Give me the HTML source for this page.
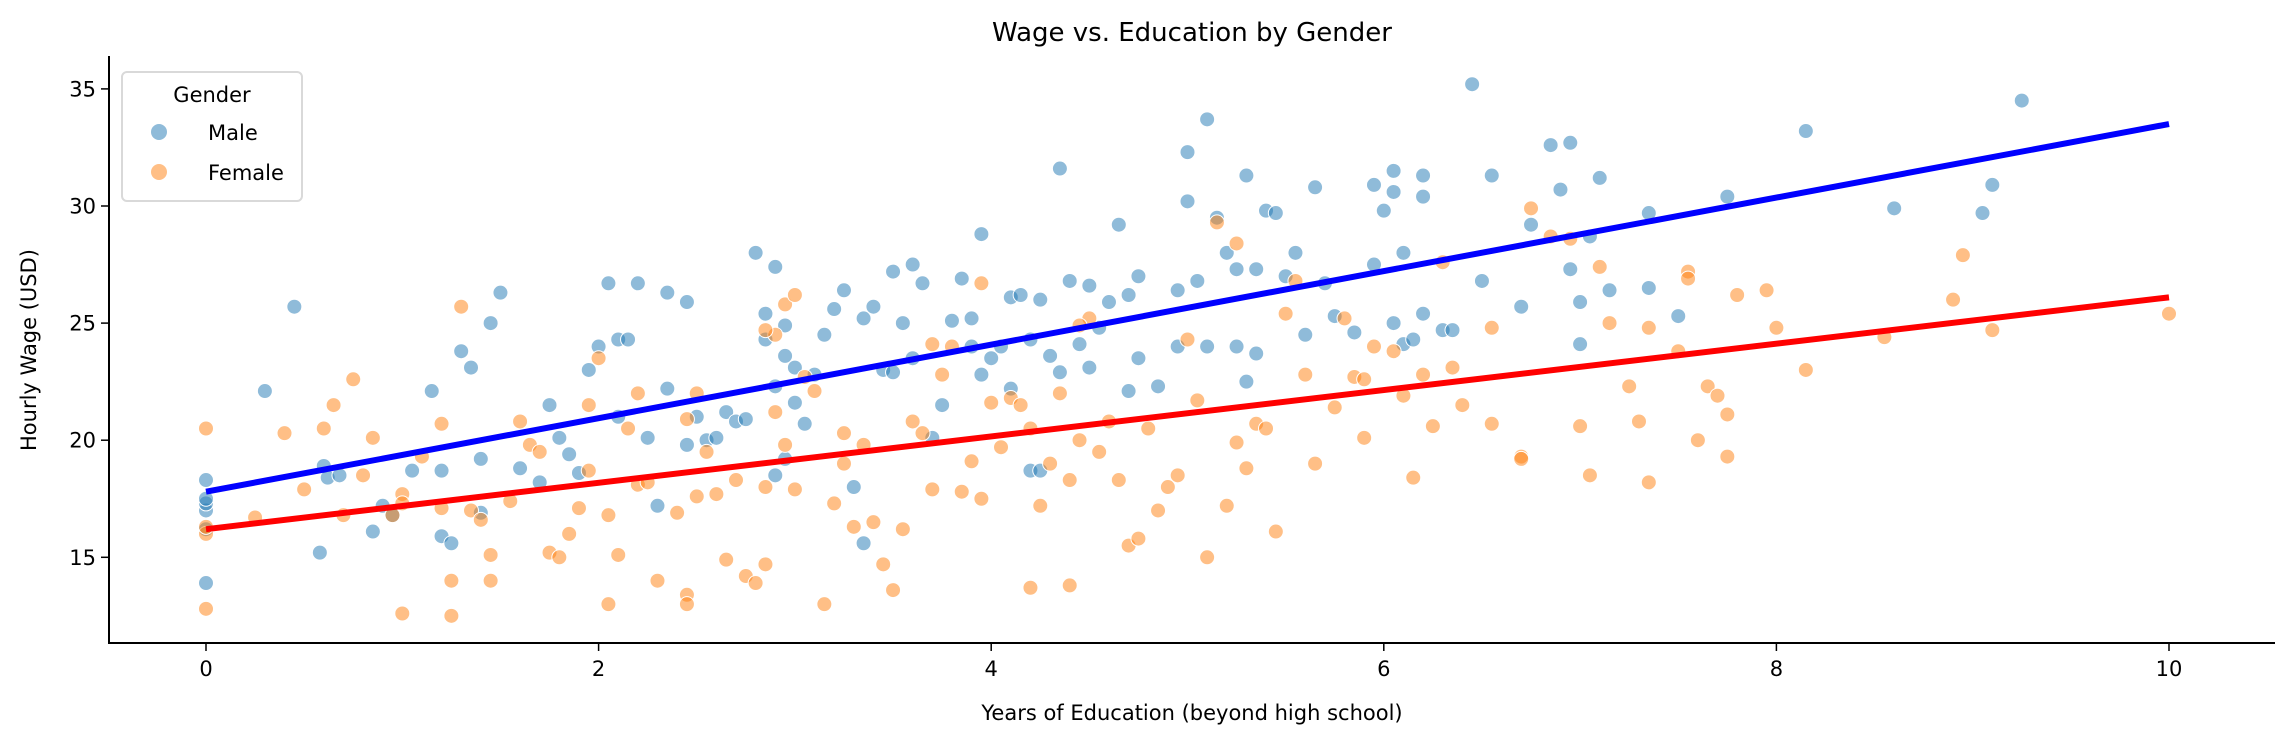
<!DOCTYPE html>
<html><head><meta charset="utf-8"><style>
body{margin:0;background:#fff;}
svg text{font-family:"DejaVu Sans","Liberation Sans",sans-serif;fill:#000;}
</style></head><body>
<svg id="chart" width="2282" height="744" viewBox="0 0 2282 744" xmlns="http://www.w3.org/2000/svg">
<g id="points"></g>
<g id="lines"></g>
<g id="axes"></g>
</svg>
<script>
const xTicks=[0,2,4,6,8,10];
const yTicks=[15,20,25,30,35];
const maleX=[0,0,0,0,0,0,0.3,0.45,0.58,0.6,0.62,0.68,0.85,0.9,0.95,1.05,1.15,1.2,1.2,1.25,1.3,1.35,1.4,1.45,1.5,1.4,1.6,1.7,1.75,1.8,1.85,1.9,1.95,2.0,2.05,2.1,2.15,2.2,2.25,2.1,2.3,2.35,2.35,2.45,2.5,2.45,2.55,2.6,2.65,2.7,2.75,2.8,2.85,2.85,2.9,2.9,2.95,2.95,3.0,3.0,2.95,2.9,3.05,3.1,3.15,3.2,3.25,3.3,3.35,3.35,3.4,3.45,3.5,3.5,3.55,3.6,3.6,3.65,3.7,3.75,3.8,3.85,3.9,3.9,3.95,3.95,4.0,4.05,4.1,4.1,4.15,4.2,4.2,4.25,4.25,4.3,4.35,4.35,4.4,4.45,4.5,4.5,4.55,4.6,4.65,4.7,4.7,4.75,4.75,4.85,4.95,4.95,5.0,5.0,5.05,5.1,5.1,5.15,5.2,5.25,5.25,5.3,5.35,5.4,5.45,5.5,5.55,5.6,5.65,5.7,5.75,5.85,5.95,5.95,6.0,6.05,6.05,6.1,6.1,6.15,6.2,6.2,6.2,6.3,6.45,6.5,6.55,6.7,6.75,6.85,6.9,6.95,6.95,7.0,7.0,7.05,7.1,7.15,7.35,7.35,7.5,7.75,8.15,8.6,9.05,9.1,9.25,5.35,6.05,6.35,5.3];
const maleY=[17,17.3,17.5,18.3,13.9,16.2,22.1,25.7,15.2,18.9,18.4,18.5,16.1,17.2,16.8,18.7,22.1,15.9,18.7,15.6,23.8,23.1,19.2,25,26.3,16.9,18.8,18.2,21.5,20.1,19.4,18.6,23,24,26.7,24.3,24.3,26.7,20.1,21,17.2,22.2,26.3,25.9,21,19.8,20,20.1,21.2,20.8,20.9,28,25.4,24.3,22.3,27.4,24.9,23.6,23.1,21.6,19.2,18.5,20.7,22.8,24.5,25.6,26.4,18,15.6,25.2,25.7,23,22.9,27.2,25,27.5,23.5,26.7,20.1,21.5,25.1,26.9,25.2,24,28.8,22.8,23.5,24,22.2,26.1,26.2,24.3,18.7,18.7,26,23.6,31.6,22.9,26.8,24.1,26.6,23.1,24.8,25.9,29.2,26.2,22.1,27,23.5,22.3,24,26.4,32.3,30.2,26.8,33.7,24,29.5,28,27.3,24,31.3,27.3,29.8,29.7,27,28,24.5,30.8,26.7,25.3,24.6,30.9,27.5,29.8,31.5,30.6,28,24.1,24.3,30.4,31.3,25.4,24.7,35.2,26.8,31.3,25.7,29.2,32.6,30.7,32.7,27.3,24.1,25.9,28.7,31.2,26.4,29.7,26.5,25.3,30.4,33.2,29.9,29.7,30.9,34.5,23.7,25,24.7,22.5];
const femaleX=[0,0,0,0,0.25,0.4,0.5,0.6,0.65,0.7,0.75,0.8,0.85,0.95,1.0,1.0,1.1,1.2,1.2,1.25,1.25,1.3,1.35,1.4,1.45,1.45,1.55,1.6,1.65,1.75,1.8,1.85,1.9,1.95,1.95,2.0,2.05,2.05,2.1,2.15,2.2,2.2,2.25,2.3,2.4,2.45,2.45,2.45,2.5,2.55,2.6,2.65,2.7,2.75,2.8,2.85,2.85,2.9,2.9,2.95,2.95,3.0,3.05,3.1,3.15,3.2,3.25,3.3,3.35,3.4,3.45,3.5,3.55,3.6,3.65,3.7,3.75,3.8,3.85,3.9,3.95,3.95,4.0,4.05,4.1,4.15,4.2,4.2,4.25,4.3,4.35,4.4,4.4,4.45,4.5,4.55,4.6,4.65,4.7,4.75,4.8,4.85,4.9,4.95,5.0,5.05,5.1,5.15,5.2,5.25,5.25,5.3,5.35,5.4,5.45,5.5,5.55,5.6,5.65,5.75,5.8,5.85,5.9,5.95,6.05,6.1,6.15,6.2,6.25,6.3,6.35,6.4,6.55,6.7,6.75,6.85,6.95,7.0,7.05,7.1,7.15,7.25,7.3,7.35,7.35,7.5,7.55,7.55,7.6,7.65,7.7,7.75,7.75,7.8,7.95,8.0,8.15,8.55,8.9,8.95,9.1,10,6.7,5.9,6.55,3.0,2.85,3.7,4.45,2.5,3.25,1.0,1.7];
const femaleY=[20.5,16,12.8,16.3,16.7,20.3,17.9,20.5,21.5,16.8,22.6,18.5,20.1,16.8,12.6,17.7,19.3,20.7,17.1,12.5,14,25.7,17,16.6,14,15.1,17.4,20.8,19.8,15.2,15,16,17.1,21.5,18.7,23.5,16.8,13,15.1,20.5,18.1,22,18.2,14,16.9,13.4,13,20.9,22,19.5,17.7,14.9,18.3,14.2,13.9,14.7,18,21.2,24.5,25.8,19.8,17.9,22.7,22.1,13,17.3,20.3,16.3,19.8,16.5,14.7,13.6,16.2,20.8,20.3,17.9,22.8,24,17.8,19.1,26.7,17.5,21.6,19.7,21.8,21.5,20.5,13.7,17.2,19,22,18.3,13.8,20,25.2,19.5,20.8,18.3,15.5,15.8,20.5,17,18,18.5,24.3,21.7,15,29.3,17.2,28.4,19.9,18.8,20.7,20.5,16.1,25.4,26.8,22.8,19,21.4,25.2,22.7,20.1,24,23.8,21.9,18.4,22.8,20.6,27.6,23.1,21.5,20.7,19.3,29.9,28.7,28.6,20.6,18.5,27.4,25,22.3,20.8,18.2,24.8,23.8,27.2,26.9,20,22.3,21.9,21.1,19.3,26.2,26.4,24.8,23,24.4,26,27.9,24.7,25.4,19.2,22.6,24.8,26.2,24.7,24.1,24.9,17.6,19,17.3,19.5];
const maleFit=[17.8,33.5];
const femaleFit=[16.2,26.1];
const fitX=[0,10];

const NS="http://www.w3.org/2000/svg";
const L=109,R=2282,T=56,B=643;
function sx(v){return 206+v*196.3;}
function sy(v){return 557.3-(v-15)*23.42;}
function mk(tag,attrs,parent,text){const e=document.createElementNS(NS,tag);for(const k in attrs)e.setAttribute(k,attrs[k]);if(text!==undefined)e.textContent=text;parent.appendChild(e);return e;}
const pts=document.getElementById('points');
function scatter(xs,ys,color,name){for(let i=0;i<xs.length;i++){const c=mk('circle',{cx:sx(xs[i]),cy:sy(ys[i]),r:7.5,fill:color,'fill-opacity':0.5,stroke:'#fff','stroke-width':1},pts);

}}
scatter(maleX,maleY,'#1f77b4','male-point');
scatter(femaleX,femaleY,'#ff7f0e','female-point');
const ln=document.getElementById('lines');
const l1=mk('line',{x1:sx(fitX[0]),y1:sy(maleFit[0]),x2:sx(fitX[1]),y2:sy(maleFit[1]),stroke:'#0000ff','stroke-width':6},ln);


const l2=mk('line',{x1:sx(fitX[0]),y1:sy(femaleFit[0]),x2:sx(fitX[1]),y2:sy(femaleFit[1]),stroke:'#ff0000','stroke-width':6},ln);


const ax=document.getElementById('axes');
mk('line',{x1:L,y1:T,x2:L,y2:B+1,stroke:'#000','stroke-width':2},ax);
mk('line',{x1:L-1,y1:B,x2:2275,y2:B,stroke:'#000','stroke-width':2},ax);
xTicks.forEach(v=>{mk('line',{x1:sx(v),y1:B,x2:sx(v),y2:B+8,stroke:'#000','stroke-width':1.5},ax);
const t=mk('text',{x:sx(v),y:B+33,'text-anchor':'middle','font-size':21},ax,String(v));

});
yTicks.forEach(v=>{mk('line',{x1:L-8,y1:sy(v),x2:L,y2:sy(v),stroke:'#000','stroke-width':1.5},ax);
const t=mk('text',{x:L-13,y:sy(v)+7.5,'text-anchor':'end','font-size':21},ax,String(v));

});
</script>
<svg style="position:absolute;left:0;top:0" width="2282" height="744">
<text x="1192" y="41" text-anchor="middle" font-size="26">Wage vs. Education by Gender</text>
<text x="1192" y="720" text-anchor="middle" font-size="21">Years of Education (beyond high school)</text>
<text transform="translate(36,350) rotate(-90)" text-anchor="middle" font-size="21">Hourly Wage (USD)</text>
<g>
<rect x="122" y="72" width="180" height="129" rx="5" fill="#fff" fill-opacity="0.8" stroke="#d9d9d9" stroke-width="2"/>
<text x="212" y="102" text-anchor="middle" font-size="21">Gender</text>
<circle cx="159" cy="132" r="8" fill="#1f77b4" fill-opacity="0.5"/>
<text x="208" y="140" font-size="21">Male</text>
<circle cx="159" cy="172" r="8" fill="#ff7f0e" fill-opacity="0.5"/>
<text x="208" y="180" font-size="21">Female</text>
</g>
</svg>
</body></html>
